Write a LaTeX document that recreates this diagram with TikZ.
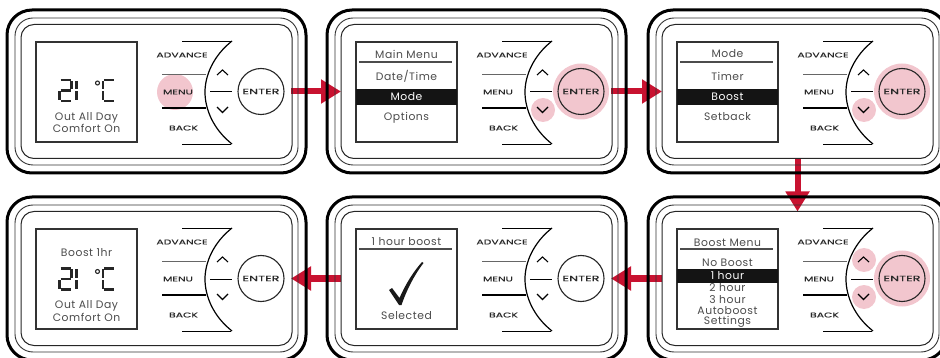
\documentclass[tikz,border=0pt]{standalone}
\usepackage{fontspec}
\setmainfont{Poppins}
\newfontfamily\btnfont[FakeStretch=1.55,FakeBold=0.3]{Poppins}
\newfontfamily\entfont[FakeStretch=1.65,FakeBold=0.3]{Poppins}
\newfontfamily\scrfont[LetterSpace=5]{Poppins}
\usetikzlibrary{arrows.meta}
\pgfdeclarelayer{bg}
\pgfsetlayers{bg,main}
\definecolor{crim}{RGB}{200,18,48}
\definecolor{pinkhl}{RGB}{242,198,206}
\definecolor{scrtext}{RGB}{75,75,75}
\definecolor{btntext}{RGB}{40,40,40}
\tikzset{
 framebox/.style={draw=black!85, line width=1.0pt, rounded corners=13pt, minimum width=271pt, minimum height=134pt, outer sep=0pt, inner sep=0pt},
 scrbox/.style={draw=black!80, line width=1.2pt, minimum width=101pt, minimum height=100pt, outer sep=0pt, inner sep=0pt},
 enterbtn/.style={circle, draw=black!85, line width=1.1pt, minimum size=46pt, inner sep=0pt, outer sep=0pt, font=\entfont\fontsize{7.8}{8}\selectfont, text=btntext},
 btnlbl/.style={font=\btnfont\fontsize{7}{8}\selectfont, text=btntext, inner sep=0pt},
 scrlbl/.style={font=\scrfont\fontsize{10.8}{11}\selectfont, text=scrtext, inner sep=0pt},
 barlbl/.style={font=\scrfont\fontsize{10.8}{11}\selectfont, text=white, inner sep=0pt},
 seg/.style={line width=2.1pt, draw=black!85},
 redarr/.style={draw=crim, line width=6pt, -{Triangle[length=20pt,width=23pt]}},
 hl/.style={fill=pinkhl, draw=none},
 hline/.style={line width=1.1pt, draw=black!70},
 bar/.style={fill=black!92},
}
\newcommand\devpanel[5]{%
\begin{scope}[shift={(#1,#2)}]
 #4
 \draw[line width=3pt, rounded corners=25pt] (0,0) rectangle (299,163);
 \draw[line width=0.9pt, draw=black!80, rounded corners=18pt] (8,8) rectangle (291,155);
 \node[framebox] (in#3) at (149.5,81.5) {};
 \node[scrbox] (scr#3) at (79.5,82) {};
 \draw[line width=0.9pt] (175,31) -- (224,31);
 \draw[line width=1pt, draw=black!60] (155,65) -- (199,65);
 \draw[line width=1.5pt] (155,98) -- (199,98);
 \draw[line width=0.9pt] (175,134) -- (224,134);
 \draw[line width=1.2pt] (225,31) .. controls (206,46) and (198,66) .. (198,82) .. controls (198,99) and (206,119) .. (225,134);
 \draw[line width=1pt] (203,82) -- (225,82);
 \draw[line width=1.1pt] (210,65) -- (215.5,60) -- (221,65);
 \draw[line width=1.1pt] (210,97) -- (215.5,102.5) -- (221,97);
 \node[btnlbl] (adv#3) at (175,45) {ADVANCE};
 \node[btnlbl] (men#3) at (171,82) {MENU};
 \node[btnlbl] (bak#3) at (176.5,118) {BACK};
 \node[enterbtn] (ent#3) at (254,81.5) {ENTER};
 #5
\end{scope}}
\newcommand\tempdisp{%
 \draw[seg] (53.5,70) -- (63.5,70) (64.5,71) -- (64.5,79.5) (53.5,80.5) -- (63.5,80.5)
   (52.5,81.5) -- (52.5,90) (53.5,91) -- (63.5,91)
   (69.5,71) -- (69.5,79.5) (69.5,81.5) -- (69.5,90)
   (97,70) -- (107,70) (96,71) -- (96,79.5) (96,81.5) -- (96,90) (97,91) -- (107,91);
 \draw[line width=1.1pt, black!85] (90.5,73) circle (2);
}
\begin{document}
\begin{tikzpicture}[x=1pt,y=-1pt]
\useasboundingbox (0,0) rectangle (940,358);
% panel 1
\devpanel{7}{10}{1}{\fill[hl] (168,82) circle (18);}{%
 \tempdisp
 \node[scrlbl] (t1a) at (79.5,108) {Out All Day};
 \node[scrlbl] (t1b) at (79.5,118.5) {Comfort On};
}
% panel 2
\devpanel{327}{10}{2}{\fill[hl] (216,100) circle (12); \fill[hl] (254,81.5) circle (28);}{%
 \node[scrlbl] (t2a) at (79.5,44) {Main Menu};
 \draw[hline] (32,52) -- (125,52);
 \node[scrlbl] (t2b) at (79.5,66) {Date/Time};
 \fill[bar] (29,79) rectangle (130,95);
 \node[barlbl] (t2c) at (79.5,87) {Mode};
 \node[scrlbl] (t2d) at (79.5,108) {Options};
}
% panel 3
\devpanel{648}{10}{3}{\fill[hl] (216,100) circle (12); \fill[hl] (254,81.5) circle (28);}{%
 \node[scrlbl] (t3a) at (79.5,44) {Mode};
 \draw[hline] (32,52) -- (125,52);
 \node[scrlbl] (t3b) at (79.5,66) {Timer};
 \fill[bar] (29,79) rectangle (130,95);
 \node[barlbl] (t3c) at (79.5,87) {Boost};
 \node[scrlbl] (t3d) at (79.5,107) {Setback};
}
% panel 4
\devpanel{7}{197}{4}{}{%
 \node[scrlbl] (t4a) at (79.5,56) {Boost 1hr};
 \begin{scope}[yshift=-1.5pt]\tempdisp\end{scope}
 \node[scrlbl] (t4b) at (79.5,109) {Out All Day};
 \node[scrlbl] (t4c) at (79.5,120) {Comfort On};
}
% panel 5
\devpanel{327}{197}{5}{}{%
 \node[scrlbl] (t5a) at (79.5,45) {1 hour boost};
 \draw[hline] (32,52) -- (125,52);
 \fill[black!90] (62,93) -- (65,91) -- (72.5,101) .. controls (79,86) and (87,74) .. (95,65)
   -- (96.5,66) .. controls (88,77) and (80,92) .. (74.5,108) -- (72,108) -- cycle;
 \node[scrlbl] (t5b) at (79.5,119) {Selected};
}
% panel 6
\devpanel{648}{197}{6}{\fill[hl] (216,63) circle (12); \fill[hl] (216,100) circle (12); \fill[hl] (254,81.5) circle (28);}{%
 \node[scrlbl] (t6a) at (79.5,46) {Boost Menu};
 \draw[hline] (32,52) -- (125,52);
 \node[scrlbl] (t6b) at (79.5,66) {No Boost};
 \fill[bar] (29,72) rectangle (130,86);
 \node[barlbl] (t6c) at (79.5,79) {1 hour};
 \node[scrlbl] (t6d) at (79.5,91) {2 hour};
 \node[scrlbl] (t6e) at (79.5,103) {3 hour};
 \node[scrlbl] (t6f) at (79.5,114) {Autoboost};
 \node[scrlbl] (t6g) at (79.5,125) {Settings};
}
\begin{pgfonlayer}{bg}
\draw[redarr] ([xshift=7pt]ent1.east) -- (ent1.east -| in2.west);
\draw[redarr] ([xshift=7pt]ent2.east) -- (ent2.east -| in3.west);
\draw[redarr] (in3.south) -- (in6.north);
\draw[redarr] (in6.west |- ent6.west) -- ([xshift=7pt]ent5.east);
\draw[redarr] (in5.west |- ent5.west) -- ([xshift=7pt]ent4.east);
\end{pgfonlayer}
\end{tikzpicture}
\end{document}
